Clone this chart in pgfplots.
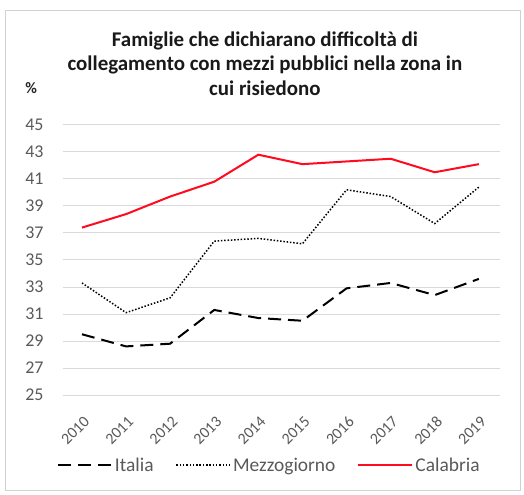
\documentclass[border=0pt]{standalone}
\usepackage{pgfplots}
\pgfplotsset{compat=1.18}
\usepackage{fontspec}
\setmainfont{Carlito}
\definecolor{txtgray}{HTML}{595959}
\definecolor{gridgray}{HTML}{D9D9D9}
\definecolor{calred}{HTML}{FF0A1E}
\begin{document}
\begin{tikzpicture}
\useasboundingbox (-63bp,-100bp) rectangle (461bp,395bp);
\draw[gray!35, line width=0.8bp] (-58bp,-95bp) rectangle (457bp,385bp);
\begin{axis}[
  scale only axis,
  width=437bp, height=270bp,
  xmin=2009.57, xmax=2019.48,
  ymin=25, ymax=45,
  ytick={25,27,...,45},
  xtick={2010,...,2019},
  xticklabels={2010,2011,2012,2013,2014,2015,2016,2017,2018,2019},
  axis line style={draw=none},
  major tick length=0pt,
  ymajorgrids,
  grid style={gridgray, line width=1bp},
  tick label style={font=\fontsize{18}{19}\selectfont, text=txtgray},
  /pgf/number format/assume math mode=true,
  xticklabel style={font=\fontsize{16}{16}\selectfont, inner sep=0pt,
    xshift=1bp, yshift=-20bp, rotate=45, anchor=north east},
  yticklabel style={xshift=-16bp},
  legend style={at={(0.472,-0.26)}, anchor=center, draw=none, fill=none,
    legend columns=-1, font=\fontsize{19.5}{20}\selectfont, text=txtgray,
    /tikz/every even column/.append style={column sep=20bp}},
  legend image code/.code={\draw[#1] (0bp,0bp) -- (54bp,0bp);},
  clip=false,
]
\addplot[black, line width=2bp, dash pattern=on 13bp off 7bp] coordinates {
  (2010,29.5) (2011,28.6) (2012,28.8) (2013,31.3) (2014,30.7)
  (2015,30.5) (2016,32.9) (2017,33.3) (2018,32.4) (2019,33.6)};
\addplot[black, line width=1.5bp, dash pattern=on 1.5bp off 1.8bp] coordinates {
  (2010,33.3) (2011,31.1) (2012,32.2) (2013,36.4) (2014,36.6)
  (2015,36.2) (2016,40.2) (2017,39.7) (2018,37.7) (2019,40.4)};
\addplot[calred, line width=2bp] coordinates {
  (2010,37.4) (2011,38.4) (2012,39.7) (2013,40.8) (2014,42.8)
  (2015,42.1) (2016,42.3) (2017,42.5) (2018,41.5) (2019,42.1)};
\legend{Italia, Mezzogiorno, Calabria}
\node[align=center, font=\bfseries\fontsize{21}{24.5}\selectfont, text=black!90]
  at (axis description cs:0.462,1.228)
  {Famiglie che dichiarano difficoltà di\\collegamento con mezzi pubblici nella zona in\\cui risiedono};
\node[font=\bfseries\fontsize{16}{18}\selectfont, text=black!85]
  at (axis description cs:-0.073,1.137) {\%};
\end{axis}
\end{tikzpicture}
\end{document}
